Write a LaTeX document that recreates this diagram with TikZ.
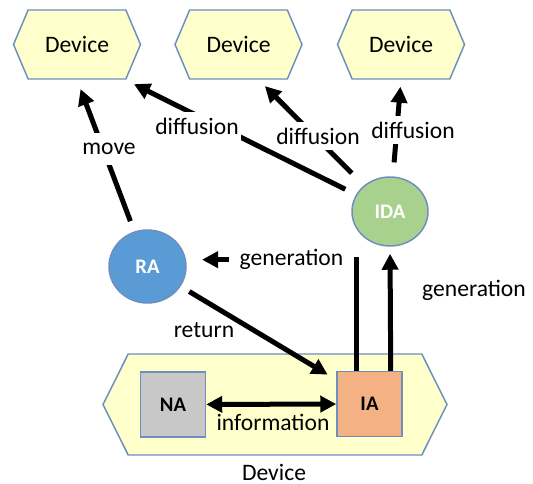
\documentclass[tikz,border=0pt]{standalone}
\usepackage{fontspec}
\setmainfont{Carlito}
\usetikzlibrary{shapes.symbols,shapes.geometric,arrows.meta,calc}
\definecolor{devfill}{RGB}{255,255,204}
\definecolor{edge}{RGB}{109,142,191}
\definecolor{rafill}{RGB}{91,155,213}
\definecolor{idafill}{RGB}{169,209,142}
\definecolor{nafill}{RGB}{200,200,200}
\definecolor{iafill}{RGB}{244,177,131}
\newcommand{\lblfont}{\fontsize{17.7pt}{20pt}\selectfont}
\newcommand{\agfont}{\bfseries\fontsize{15.5pt}{18pt}\selectfont}
\begin{document}
\begin{tikzpicture}[x=0.75pt,y=-0.75pt,
  dev/.style={signal, signal to=west and east, signal pointer angle=134,
    draw=edge, line width=1.1pt, fill=devfill, minimum width=95.25pt,
    minimum height=51.75pt, inner sep=0pt, font=\lblfont},
  agent/.style={ellipse, draw=edge, line width=1.1pt, inner sep=0pt,
    text=white, font=\agfont},
  abox/.style={rectangle, draw=edge, line width=1.1pt, minimum width=48.75pt,
    minimum height=48.75pt, inner sep=0pt, font=\agfont},
  arr/.style={line width=3.75pt, -{Triangle[length=12pt,width=12pt]}},
  lbl/.style={fill=white, inner xsep=2pt, inner ysep=4pt, font=\lblfont},
  txt/.style={inner sep=0pt, font=\lblfont}
]
\useasboundingbox (0,0) rectangle (533,484);
% devices
\node[dev] (d1) at (77,44.5) {Device};
\node[dev] (d2) at (238.5,44.5) {Device};
\node[dev] (d3) at (401,44.5) {Device};
\node[dev, signal pointer angle=127, minimum width=258pt, minimum height=75.75pt] (d4) at (275,404.5) {};
\node[txt] (d4l) at (274,472) {Device};
% agents
\node[agent, fill=rafill, minimum width=57.75pt, minimum height=54.75pt] (RA) at (147.5,266.5) {RA};
\node[agent, fill=idafill, minimum width=57pt, minimum height=51.75pt] (IDA) at (390,211.5) {IDA};
\node[abox, fill=nafill] (NA) at (173,404.5) {NA};
\node[abox, fill=iafill] (IA) at (369.5,404) {IA};
% connectors
\draw[arr, shorten <=8.25pt, shorten >=7.5pt] (RA) -- (d1.south);
\draw[arr, shorten <=9pt, shorten >=7.5pt] (IDA) -- ($(d1.south)+(48,0)$);
\draw[arr, shorten <=13pt, shorten >=6.75pt] (IDA) -- ($(d2.south)+(20,0)$);
\draw[arr, shorten <=10.5pt, shorten >=5.25pt] (IDA) -- (d3.south);
\draw[arr, shorten >=12pt] ($(IA.north west)+(20,0)$) |- (RA.10);
\draw[arr, shorten >=5.25pt] ($(IA.north east)+(-12,0)$) -- (IDA.south);
\draw[arr, shorten <=7.5pt, shorten >=7.5pt] (RA) -- ($(IA.north west)+(0,9)$);
\draw[line width=3.75pt, {Triangle[length=12pt,width=12pt]}-{Triangle[length=12pt,width=12pt]}] (NA) -- (IA);
% labels
\node[lbl, inner ysep=8pt] (lmove) at (109,149) {move};
\node[lbl] (ldif1) at (197,126) {diffusion};
\node[lbl] (ldif2) at (318,136) {diffusion};
\node[lbl] (ldif3) at (413,130) {diffusion};
\node[fill=white, inner sep=0pt, minimum width=93.75pt, font=\lblfont] (lgen1) at (291.5,259) {generation};
\node[txt] (lgen2) at (474,290) {generation};
\node[txt] (lret) at (204,330) {return};
\node[txt] (linfo) at (273,422) {information};
\end{tikzpicture}
\end{document}
